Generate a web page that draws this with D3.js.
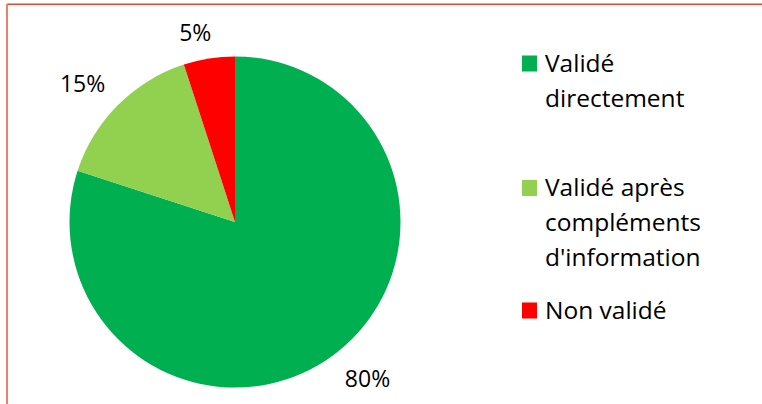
<!DOCTYPE html>
<html><head><meta charset="utf-8">
<script src="https://cdn.jsdelivr.net/npm/d3@7"></script>
<style>html,body{margin:0;padding:0;background:#fff;}svg{display:block;}text{font-variant-ligatures:none;}</style>
</head><body>
<svg id="c" width="762" height="404"></svg>
<script>
const categories = ["Validé directement", "Validé après compléments d'information", "Non validé"];
const values = [80, 15, 5];
const labels = ["80%", "15%", "5%"];
const legendLines = [["Validé", "directement"], ["Validé après", "compléments", "d'information"], ["Non validé"]];
const colors = ["#00B050", "#92D050", "#FF0000"];

const svg = d3.select("#c");
const font = "'Open Sans', Lato, sans-serif";

// border
svg.append("line").attr("x1", 7).attr("x2", 762).attr("y1", 4.2).attr("y2", 4.2)
  .attr("stroke", "#E5472E").attr("stroke-width", 1.6);
svg.append("line").attr("x1", 7).attr("x2", 7).attr("y1", 4).attr("y2", 404)
  .attr("stroke", "#E8806B").attr("stroke-width", 2);

const cx = 235, cy = 222, r = 165.5;
const pie = d3.pie().sort(null).value(d => d)(values);
const arc = d3.arc().innerRadius(0).outerRadius(r);
const g = svg.append("g").attr("transform", `translate(${cx},${cy})`);
g.selectAll("path").data(pie).join("path")
  .attr("d", arc).attr("fill", (d, i) => colors[i]);

const gap = 18, cap = 16.5;
pie.forEach((d, i) => {
  const a = (d.startAngle + d.endAngle) / 2;
  const sx = Math.sin(a), sy = -Math.cos(a);
  const px = sx * (r + gap), py = sy * (r + gap);
  g.append("text")
    .attr("x", px + (Math.abs(sx) < 0.3 ? 5 : 0) + (sx > 0 ? 2 : 0))
    .attr("y", sy < 0 ? py : py + cap)
    .attr("text-anchor", sx < 0 ? "end" : "start")
    .attr("font-family", font).attr("font-size", 23).attr("fill", "#000")
    .text(labels[i]);
});

// legend
const legTop = [71.5, 196, 318.5];
const lineH = 35;
const leg = svg.append("g");
legendLines.forEach((lines, i) => {
  const gi = leg.append("g");
  gi.append("rect").attr("x", 522).attr("y", legTop[i] - 16).attr("width", 15).attr("height", 16)
    .attr("fill", colors[i]);
  lines.forEach((t, j) => {
    gi.append("text").attr("x", 545).attr("y", legTop[i] + j * lineH)
      .attr("font-family", font).attr("font-size", 24.5).attr("fill", "#000").text(t);
  });
});
</script>
</body></html>
